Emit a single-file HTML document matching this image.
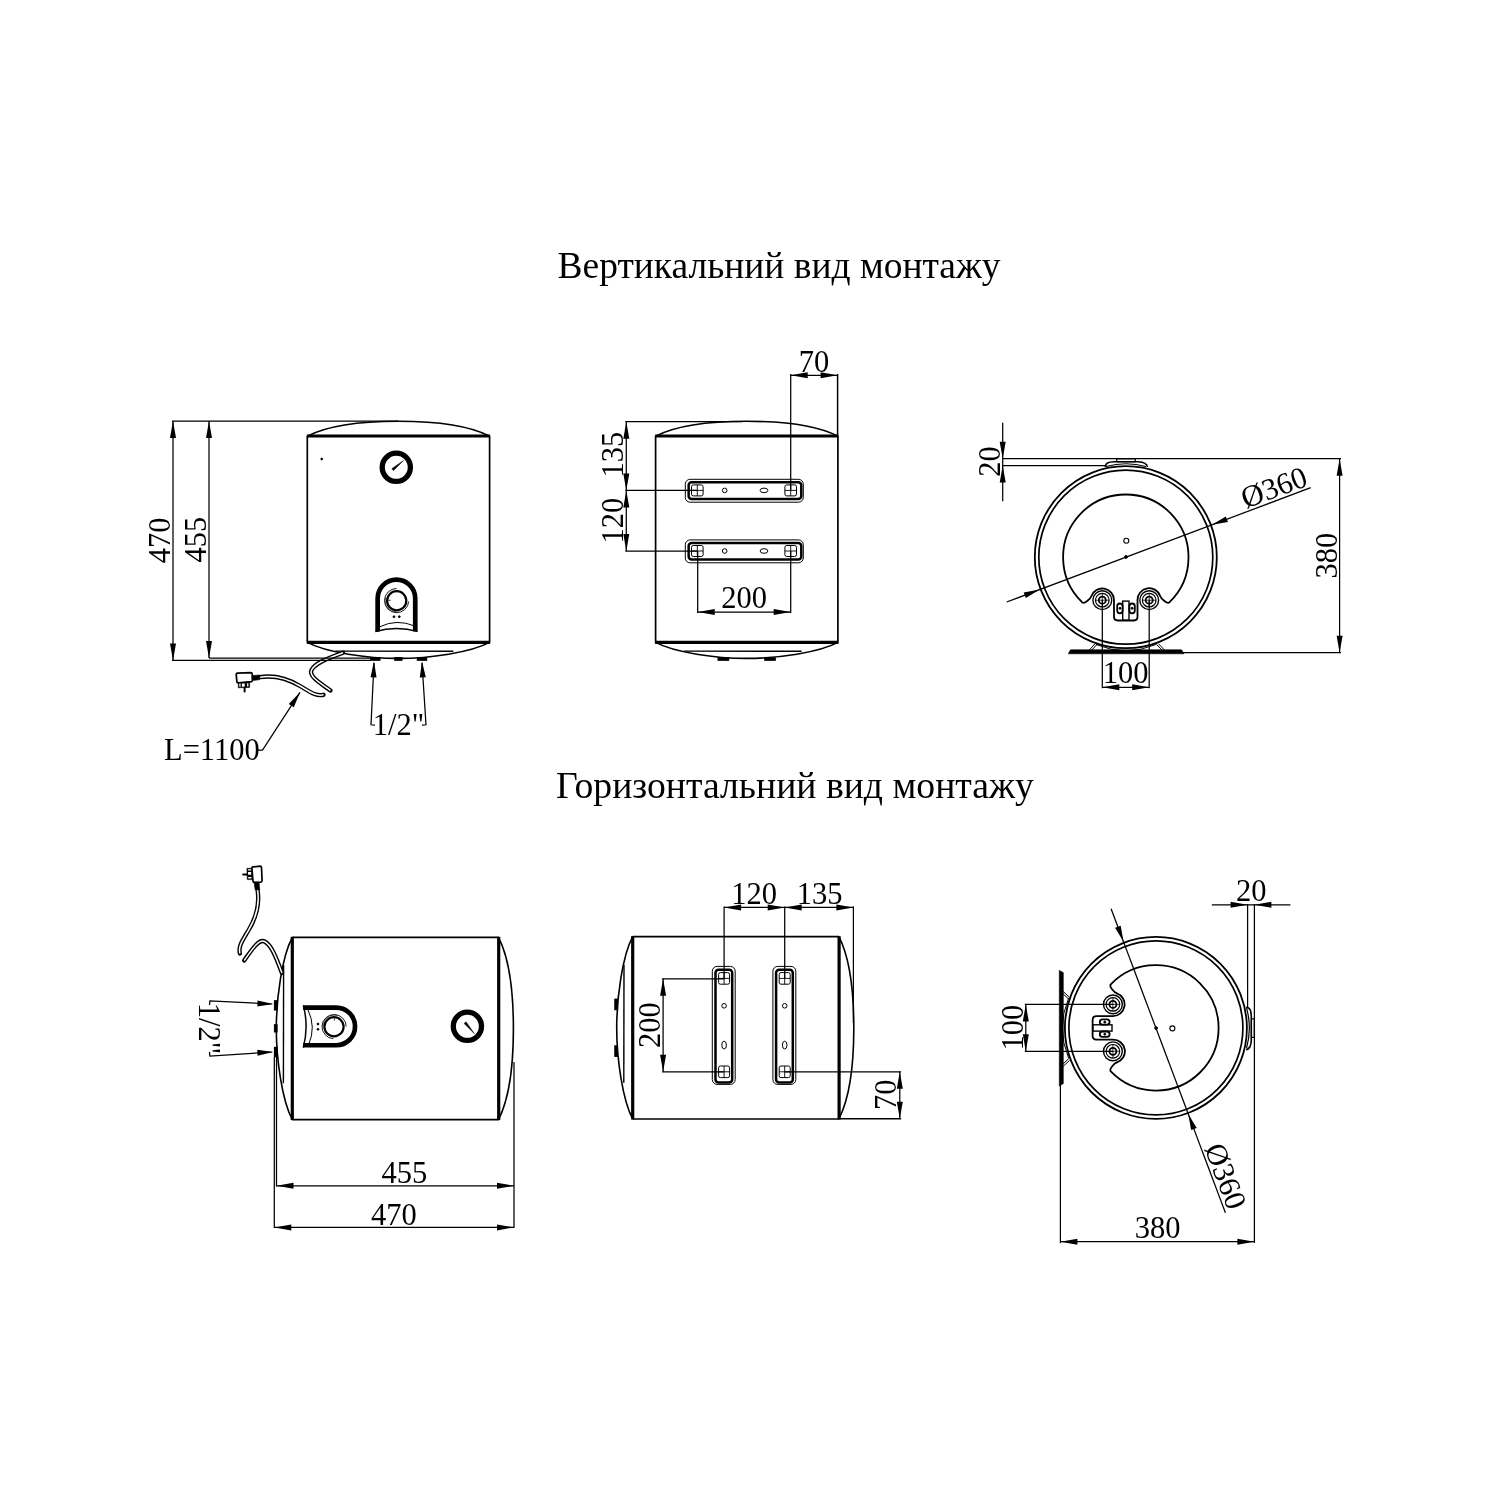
<!DOCTYPE html><html><head><meta charset="utf-8"><style>html,body{margin:0;padding:0;background:#fff;}svg{display:block;will-change:transform}svg *{fill:none;stroke:#000;stroke-linecap:butt}svg text{fill:#000;stroke:none;font-family:"Liberation Serif",serif}svg .f{fill:#000}svg .w{stroke:#fff}svg .ar{fill:#000;stroke:none}</style></head><body>
<svg width="1500" height="1500" viewBox="0 0 1500 1500">
<defs>
<g id="v1"><line x1="307.3" y1="436" x2="307.3" y2="642.4" stroke-width="1.7" /><line x1="489.6" y1="436" x2="489.6" y2="642.4" stroke-width="1.7" /><line x1="306.8" y1="436" x2="490.1" y2="436" stroke-width="3.2" /><line x1="306.8" y1="642.4" x2="490.1" y2="642.4" stroke-width="3.2" /><path d="M307.3,436.2 C324.8,427.2 355.45000000000005,421.3 398.45000000000005,421.3 C441.45000000000005,421.3 472.1,427.2 489.6,436.2" stroke-width="1.6"/><path d="M307.3,642.4 C326.0,652.5 367.65000000000003,658.4 398.45000000000005,658.4 C429.25000000000006,658.4 470.90000000000003,652.5 489.6,642.4" stroke-width="1.6"/><line x1="335.3" y1="651.1" x2="453.3" y2="651.3" stroke-width="1.4" /><rect x="370.7" y="657.6" width="9.300000000000011" height="2.7" class="f"/><rect x="394.7" y="657.6" width="7.300000000000011" height="2.7" class="f"/><rect x="417.3" y="657.6" width="9.399999999999977" height="2.7" class="f"/><circle cx="396.3" cy="467.3" r="14.1" stroke-width="5.3"/><path d="M391.8,468.7 L403.6,460.4 L393.5,470.6 Z" class="f" stroke-width="0.5"/><path d="M377.65,631.5 L377.65,598.45 A18.8,18.8 0 0 1 415.25,598.45 L415.25,631.5" stroke-width="4.7"/><path d="M375.3,631.4 Q396.5,625.8 417.6,631.4" stroke-width="1.5"/><path d="M380,626.7 Q396.7,618.5 414.7,626" stroke-width="1"/><circle cx="396.7" cy="600.7" r="9.6" stroke-width="2.2"/><path d="M396.6,588.5 A12.1,12.1 0 1 0 408.7,601.4" stroke-width="0.9"/><path d="M396.6,611.9 A11.3,11.3 0 0 1 385.6,597.5" stroke-width="0.6"/><path d="M388.4,600.3 H390.6" stroke-width="0.8"/><circle cx="394" cy="616.7" r="0.9" class="f"/><circle cx="399.3" cy="616.7" r="0.9" class="f"/><path d="M259.6,677.2 C273,675 285,677 300,686 C311,692.5 316,696.5 323.5,694.8" stroke-width="4.3" style="stroke-linecap:round"/><path d="M259.6,677.2 C273,675 285,677 300,686 C311,692.5 316,696.5 323.5,694.8" stroke-width="1.5" class="w"/><path d="M343,652.8 C326,659 315,663.5 311.5,670 C308.5,676 320,683 330.5,690.5" stroke-width="4.3" style="stroke-linecap:round"/><path d="M343,652.8 C326,659 315,663.5 311.5,670 C308.5,676 320,683 330.5,690.5" stroke-width="1.5" class="w"/><path d="M236.2,674.4 Q236.2,673.3 237.6,673.2 L250.6,672.6 Q252.1,672.6 252.2,674 L252.4,680.6 Q252.4,681.5 251.2,681.7 L238.3,682.8 Q237.1,682.9 236.9,682 Z" stroke-width="1.7" style="fill:#fff"/><path d="M252.2,675.6 L259.8,675 L259.8,679.6 L252.4,680.6 Z" class="f" stroke-width="0.6"/><path d="M238.3,682.8 L238.3,687.8 L249.6,687.4 L249.6,682" class="f" stroke-width="0.6"/><path d="M239.3,683.6 h1.3 v3.2 h-1.3 Z M241.9,683.5 h2.9 v3.2 h-2.9 Z M247.1,683.3 h1.3 v3.2 h-1.3 Z" style="fill:#fff;stroke:none"/><path d="M244.6,687.5 V691.5" stroke-width="2" style="stroke-linecap:round"/><path d="M374,663 L371,724.8 L375,725.2" stroke-width="1.25"/><path d="M422,663 L426,724.8 L422,725.2" stroke-width="1.25"/><path d="M374.00,661.30L376.52,677.38L370.52,677.20Z" class="ar"/><path d="M422.00,661.30L425.80,677.13L419.80,677.43Z" class="ar"/><text x="398.5" y="735.3" text-anchor="middle" font-size="30.5">1/2"</text></g>
<g id="v2"><line x1="655.6" y1="436" x2="655.6" y2="642.4" stroke-width="1.7" /><line x1="837.9000000000001" y1="436" x2="837.9000000000001" y2="642.4" stroke-width="1.7" /><line x1="655.1" y1="436" x2="838.4000000000001" y2="436" stroke-width="3.2" /><line x1="655.1" y1="642.4" x2="838.4000000000001" y2="642.4" stroke-width="3.2" /><path d="M655.6,436.2 C673.1,427.2 703.75,421.3 746.75,421.3 C789.75,421.3 820.4000000000001,427.2 837.9000000000001,436.2" stroke-width="1.6"/><path d="M655.6,642.4 C674.3000000000001,652.5 715.95,658.4 746.75,658.4 C777.55,658.4 819.2,652.5 837.9000000000001,642.4" stroke-width="1.6"/><line x1="683.6" y1="651.1" x2="801.6" y2="651.3" stroke-width="1.4" /><rect x="718" y="657.8" width="10.700000000000045" height="2.5" class="f"/><rect x="764.7" y="657.8" width="10.599999999999909" height="2.5" class="f"/><rect x="685.3" y="479.3" width="118" height="22.9" rx="4.8" stroke-width="1"/><rect x="688.65" y="482.3" width="112.65" height="16.7" rx="3" stroke-width="2.5"/><rect x="691.5" y="484.9" width="11.6" height="11" rx="1.8" stroke-width="1"/><path d="M691.5,490.4 H703.0999999999999 M697.3,484.9 V495.9" stroke-width="0.9"/><rect x="784.9000000000001" y="484.9" width="11.6" height="11" rx="1.8" stroke-width="1"/><path d="M784.9000000000001,490.4 H796.5 M790.7,484.9 V495.9" stroke-width="0.9"/><circle cx="724.7" cy="490.4" r="2.3" stroke-width="1"/><ellipse cx="764" cy="490.4" rx="3.9" ry="2.3" stroke-width="1"/><rect x="685.3" y="539.9" width="118" height="22.9" rx="4.8" stroke-width="1"/><rect x="688.65" y="542.9" width="112.65" height="16.7" rx="3" stroke-width="2.5"/><rect x="691.5" y="545.5" width="11.6" height="11" rx="1.8" stroke-width="1"/><path d="M691.5,551.0 H703.0999999999999 M697.3,545.5 V556.5" stroke-width="0.9"/><rect x="784.9000000000001" y="545.5" width="11.6" height="11" rx="1.8" stroke-width="1"/><path d="M784.9000000000001,551.0 H796.5 M790.7,545.5 V556.5" stroke-width="0.9"/><circle cx="724.7" cy="551.0" r="2.3" stroke-width="1"/><ellipse cx="764" cy="551.0" rx="3.9" ry="2.3" stroke-width="1"/><line x1="625.3" y1="421.7" x2="742" y2="421.7" stroke-width="1.25" /><line x1="626.3" y1="421.7" x2="626.3" y2="551" stroke-width="1.25" /><line x1="625.3" y1="490.4" x2="697.3" y2="490.4" stroke-width="1.25" /><line x1="625.3" y1="551" x2="697.7" y2="551" stroke-width="1.25" /><path d="M626.30,421.70L629.30,438.70L623.30,438.70Z" class="ar"/><path d="M626.30,490.40L623.30,473.40L629.30,473.40Z" class="ar"/><path d="M626.30,490.40L629.30,507.40L623.30,507.40Z" class="ar"/><path d="M626.30,551.00L623.30,534.00L629.30,534.00Z" class="ar"/><line x1="790.7" y1="374" x2="790.7" y2="490.4" stroke-width="1.25" /><line x1="837.6" y1="374" x2="837.6" y2="436" stroke-width="1.5" /><line x1="790.7" y1="375.3" x2="837.6" y2="375.3" stroke-width="1.25" /><path d="M790.70,375.30L807.70,372.30L807.70,378.30Z" class="ar"/><path d="M837.60,375.30L820.60,378.30L820.60,372.30Z" class="ar"/><line x1="697.7" y1="551" x2="697.7" y2="613" stroke-width="1.25" /><line x1="790.7" y1="551" x2="790.7" y2="613" stroke-width="1.25" /><line x1="697.7" y1="612" x2="790.7" y2="612" stroke-width="1.25" /><path d="M697.70,612.00L714.70,609.00L714.70,615.00Z" class="ar"/><path d="M790.70,612.00L773.70,615.00L773.70,609.00Z" class="ar"/></g>
<g id="v3"><circle cx="1125.8" cy="557.2" r="91" stroke-width="1.8"/><circle cx="1125.8" cy="557.2" r="87" stroke-width="1.7"/><path d="M1169.36,602.30 A62.7,62.7 0 1 0 1082.24,602.30 C1084.4,604.4 1090.3,599.0 1091.31,596.20 A11.7,11.7 0 0 1 1114,600.2 L1114,616.8 Q1114,620.4 1117.8,620.5 L1133.9,620.5 Q1137.5,620.4 1137.5,616.8 L1137.5,600.2 A11.7,11.7 0 0 1 1160.29,596.20 C1161.3,599.0 1167.2,604.4 1169.36,602.30 Z" stroke-width="1.8"/><circle cx="1102.3" cy="600.2" r="9.4" stroke-width="1.4"/><circle cx="1102.3" cy="600.2" r="6.8" stroke-width="1.2"/><circle cx="1102.3" cy="600.2" r="3.5" stroke-width="1.8"/><path d="M1095.5,600.2 H1109.1 M1102.3,593.4 V607" stroke-width="0.8"/><circle cx="1149.2" cy="600.2" r="9.4" stroke-width="1.4"/><circle cx="1149.2" cy="600.2" r="6.8" stroke-width="1.2"/><circle cx="1149.2" cy="600.2" r="3.5" stroke-width="1.8"/><path d="M1142.4,600.2 H1156.0 M1149.2,593.4 V607" stroke-width="0.8"/><rect x="1122.7" y="601.1" width="6.3" height="19.2" stroke-width="1.4"/><rect x="1117.2" y="603.5" width="5.4" height="9.8" rx="2.7" stroke-width="1.8"/><rect x="1129.4" y="603.5" width="5.4" height="9.8" rx="2.7" stroke-width="1.8"/><circle cx="1120" cy="608.3" r="1" class="f"/><circle cx="1132.1" cy="608.3" r="1" class="f"/><circle cx="1126.3" cy="540.7" r="2.5" stroke-width="1.1"/><circle cx="1126" cy="557" r="1.4" class="f"/><path d="M1105.3,467 C1105.5,463 1108,462 1114,461.8 L1138,461.8 C1144,462 1147,463.5 1147.5,467" stroke-width="1.6"/><rect x="1116.7" y="458.8" width="18.6" height="2.9" stroke-width="1.2"/><path d="M1106,466.5 Q1126,461 1146,466.5" stroke-width="1.2"/><path d="M1068.3,653.8 L1070.5,649.8 L1181.5,649.8 L1184,653.8 Z" class="f" stroke-width="0.6"/><path d="M1089.3,650 L1095.2,643.6 M1091.8,650 L1097.2,644.2 M1156.4,644.2 L1161.8,650 M1158.4,643.6 L1164.3,650" stroke-width="1"/><path d="M1096,644.5 Q1126,657 1156,644.5" stroke-width="1"/><line x1="1002.7" y1="422.7" x2="1002.7" y2="501.3" stroke-width="1.25" /><path d="M1002.70,458.70L999.70,441.70L1005.70,441.70Z" class="ar"/><path d="M1002.70,465.50L1005.70,482.50L999.70,482.50Z" class="ar"/><line x1="1002" y1="458.7" x2="1341" y2="458.7" stroke-width="1.25" /><line x1="1002" y1="465.5" x2="1105.5" y2="465.5" stroke-width="1.25" /><line x1="1339.6" y1="458.7" x2="1339.6" y2="652.7" stroke-width="1.25" /><path d="M1339.60,458.70L1342.60,475.70L1336.60,475.70Z" class="ar"/><path d="M1339.60,652.70L1336.60,635.70L1342.60,635.70Z" class="ar"/><line x1="1183" y1="652.7" x2="1341" y2="652.7" stroke-width="1.25" /><line x1="1102.3" y1="600.1" x2="1102.3" y2="688.3" stroke-width="1.25" /><line x1="1149.2" y1="600.1" x2="1149.2" y2="688.3" stroke-width="1.25" /><line x1="1102.3" y1="687.3" x2="1149.2" y2="687.3" stroke-width="1.25" /><path d="M1102.30,687.30L1119.30,684.30L1119.30,690.30Z" class="ar"/><path d="M1149.20,687.30L1132.20,690.30L1132.20,684.30Z" class="ar"/><line x1="1006.7" y1="602" x2="1310.7" y2="487.7" stroke-width="1.25" /><path d="M1039.69,589.58L1025.77,598.02L1023.66,592.41Z" class="ar"/><path d="M1211.91,524.82L1225.83,516.38L1227.94,521.99Z" class="ar"/><text transform="translate(1274,487.5) rotate(-20.6)" x="0" y="10.07" text-anchor="middle" font-size="30.5">Ø360</text></g>
</defs>
<rect x="0" y="0" width="1500" height="1500" style="fill:#fff;stroke:none"/>
<text x="557.5" y="277.8" font-size="37.5" transform="translate(0,277.8) scale(1,1.02) translate(0,-277.8)">Вертикальний вид монтажу</text>
<text x="556" y="798" font-size="37.7" transform="translate(0,798) scale(1,1.02) translate(0,-798)">Горизонтальний вид монтажу</text>
<use href="#v1"/><use href="#v2"/><use href="#v3"/>
<circle cx="321.7" cy="459" r="0.9" class="f"/><line x1="172" y1="421" x2="398" y2="421" stroke-width="1.25" /><line x1="173" y1="421" x2="173" y2="660.4" stroke-width="1.25" /><line x1="209" y1="421" x2="209" y2="658" stroke-width="1.25" /><line x1="172" y1="660.4" x2="371" y2="660.4" stroke-width="1.25" /><line x1="209" y1="658" x2="371" y2="658" stroke-width="1.25" /><path d="M173.00,421.00L176.00,438.00L170.00,438.00Z" class="ar"/><path d="M173.00,660.40L170.00,643.40L176.00,643.40Z" class="ar"/><path d="M209.00,421.00L212.00,438.00L206.00,438.00Z" class="ar"/><path d="M209.00,658.00L206.00,641.00L212.00,641.00Z" class="ar"/><text transform="translate(159.6,540.3) rotate(-90)" x="0" y="10.07" text-anchor="middle" font-size="30.5">470</text><text transform="translate(195.6,539.6) rotate(-90)" x="0" y="10.07" text-anchor="middle" font-size="30.5">455</text><text x="164" y="759.7" text-anchor="start" font-size="30.5">L=1100</text><path d="M257.5,750 L262.5,750 L300,692.3" stroke-width="1.25"/><path d="M300.00,692.30L293.80,707.35L288.77,704.08Z" class="ar"/><text x="814" y="372" text-anchor="middle" font-size="30.5">70</text><text transform="translate(612.6,454.6) rotate(-90)" x="0" y="10.07" text-anchor="middle" font-size="30.5">135</text><text transform="translate(613,520.5) rotate(-90)" x="0" y="10.07" text-anchor="middle" font-size="30.5">120</text><text x="744" y="608" text-anchor="middle" font-size="30.5">200</text><text transform="translate(989.6,461.6) rotate(-90)" x="0" y="10.07" text-anchor="middle" font-size="30.5">20</text><text transform="translate(1326.8,555.6) rotate(-90)" x="0" y="10.07" text-anchor="middle" font-size="30.5">380</text><text x="1125.7" y="682.7" text-anchor="middle" font-size="30.5">100</text>
<use href="#v1" transform="matrix(0,1,-1,0,934.7,630)"/>
<use href="#v2" transform="matrix(0,1,-1,0,1275.1,281.1)"/>
<use href="#v3" transform="matrix(0,1,-1,0,1713.1,-97.9)"/>
<line x1="274.3" y1="1057" x2="274.3" y2="1228" stroke-width="1.25" /><line x1="276.5" y1="1057" x2="276.5" y2="1186.5" stroke-width="1.25" /><line x1="514" y1="1062" x2="514" y2="1228" stroke-width="1.25" /><line x1="276.5" y1="1185.8" x2="514" y2="1185.8" stroke-width="1.25" /><line x1="274.3" y1="1227.4" x2="514" y2="1227.4" stroke-width="1.25" /><path d="M276.50,1185.80L293.50,1182.80L293.50,1188.80Z" class="ar"/><path d="M514.00,1185.80L497.00,1188.80L497.00,1182.80Z" class="ar"/><path d="M274.30,1227.40L291.30,1224.40L291.30,1230.40Z" class="ar"/><path d="M514.00,1227.40L497.00,1230.40L497.00,1224.40Z" class="ar"/><text x="404.4" y="1183.4" text-anchor="middle" font-size="30.5">455</text><text x="393.8" y="1224.7" text-anchor="middle" font-size="30.5">470</text><text x="754" y="904" text-anchor="middle" font-size="30.5">120</text><text x="819.6" y="904" text-anchor="middle" font-size="30.5">135</text><text transform="translate(650,1025) rotate(-90)" x="0" y="10.07" text-anchor="middle" font-size="30.5">200</text><text transform="translate(885.6,1094.7) rotate(-90)" x="0" y="10.07" text-anchor="middle" font-size="30.5">70</text><text x="1251.3" y="901.1" text-anchor="middle" font-size="30.5">20</text><text transform="translate(1012.7,1027.6) rotate(-90)" x="0" y="10.07" text-anchor="middle" font-size="30.5">100</text><text x="1157.6" y="1238.4" text-anchor="middle" font-size="30.5">380</text>
</svg></body></html>
